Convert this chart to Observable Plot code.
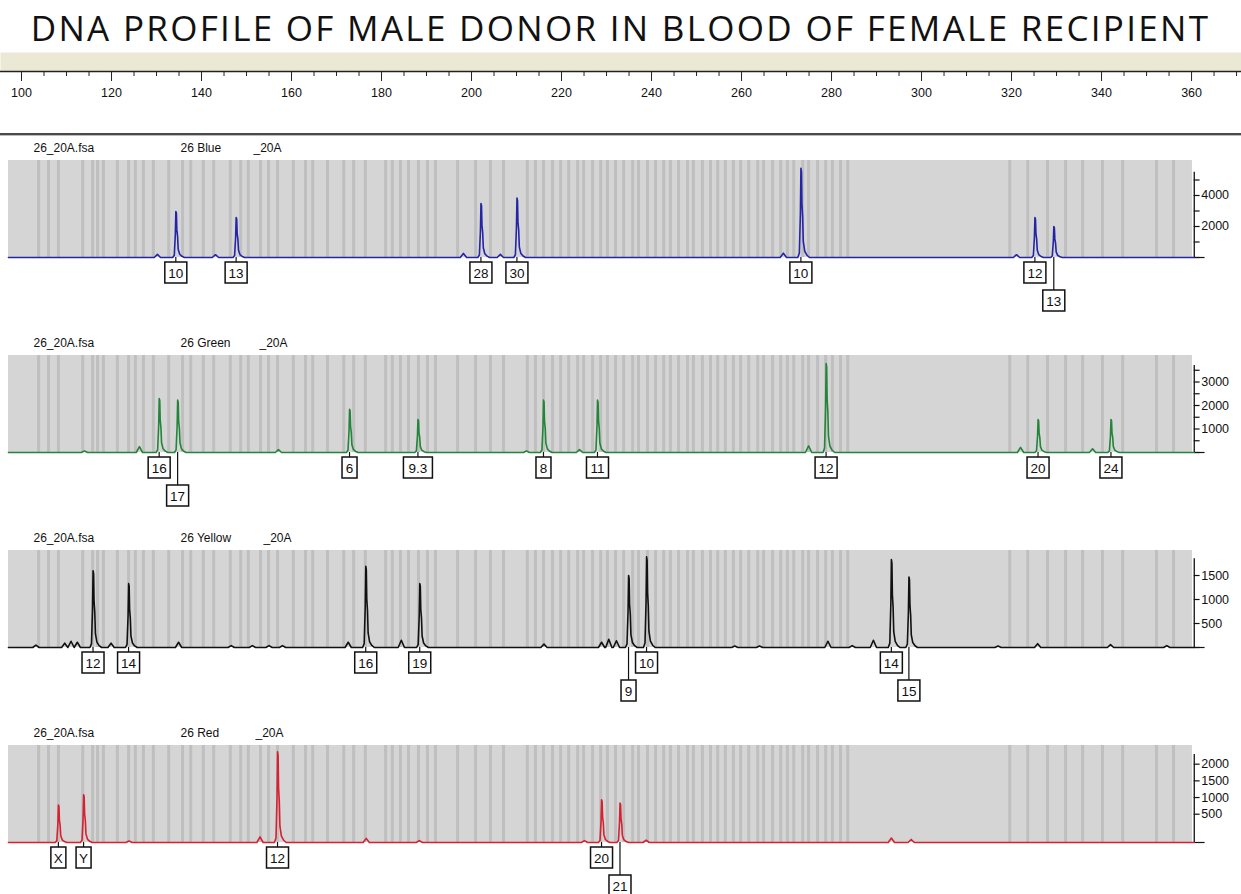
<!DOCTYPE html>
<html><head><meta charset="utf-8">
<script src="https://cdn.jsdelivr.net/npm/d3@7"></script>
<script src="https://cdn.jsdelivr.net/npm/@observablehq/plot@0.6"></script>
<style>
html,body{margin:0;padding:0;background:#fff;overflow:hidden;}
body{width:1241px;font-family:"Liberation Sans",Arial,sans-serif;}
#title{height:50px;text-align:center;font-family:"Open Sans",sans-serif;font-size:35px;line-height:56px;color:#111;letter-spacing:2.3px;white-space:nowrap;}
#sep{height:2px;background:#4a4a4a;border-bottom:1px solid #bbb;}
svg{display:block;}
</style></head><body>
<div id="title">DNA PROFILE OF MALE DONOR IN BLOOD OF FEMALE RECIPIENT</div>
<div id="axis"></div>
<div id="sep"></div>
<div id="panels"></div>
<script>
// ---------- data ----------
const sizeTickLabels = [100,120,140,160,180,200,220,240,260,280,300,320,340,360];
const sizeMinorTicks = [95,105,110,115,125,130,135,145,150,155,165,170,175,185,190,195,205,210,215,225,230,235,245,250,255,265,270,275,285,290,295,305,310,315,325,330,335,345,350,355,365,370];
const analysisRange = [97.1, 360.2];
const binCenters = [103.8,106.0,108.2,113.6,115.8,116.9,118.2,121.3,123.8,125.3,127.1,129.3,132.7,135.8,137.6,140.4,142.7,146.4,148.7,150.4,153.1,154.9,156.9,160.4,163.1,164.7,168.0,171.6,173.8,176.4,180.9,182.4,184.2,186.0,188.2,190.2,192.0,196.9,200.9,204.2,207.1,212.4,214.2,216.0,218.0,219.8,221.6,223.6,224.9,226.9,228.7,230.2,232.0,233.8,235.8,237.1,239.1,240.9,242.7,244.2,246.0,248.0,249.3,251.3,253.1,254.7,256.4,258.2,259.8,261.6,263.6,264.9,266.9,268.7,270.2,271.6,273.6,274.9,276.9,278.7,280.2,282.0,283.6,319.6,323.6,328.0,332.0,335.8,340.2,344.7,352.2,356.0];

const sampleFile = "26_20A.fsa";
const sampleName = "_20A";
const dyeNames = ["26 Blue","26 Green","26 Yellow","26 Red"];

const blueAlleles = ["10","13","28","30","10","12","13"];
const bluePos     = [134.4,147.8,202.2,210.2,273.3,325.3,329.5];
const blueHeight  = [2970,2580,3480,3830,5750,2580,2000];
const blueMinorPos    = [130.2,143.1,198.2,206.4,269.3,321.1];
const blueMinorHeight = [200,180,260,200,280,180];
const blueBaseline = 0;
const blueTicks = [0,1000,2000,3000,4000,5000];
const blueTickLabels = [2000,4000];

const greenAlleles = ["16","17","6","9.3","8","11","12","20","24"];
const greenPos     = [130.7,134.8,173.0,188.2,216.1,228.1,278.9,326.0,342.2];
const greenHeight  = [2300,2230,1840,1400,2230,2230,3790,1400,1400];
const greenMinorPos    = [114.0,126.2,157.1,212.2,224.0,274.9,322.0,338.0];
const greenMinorHeight = [60,250,120,60,120,280,220,160];
const greenBaseline = 0;
const greenTicks = [0,500,1000,1500,2000,2500,3000,3500];
const greenTickLabels = [1000,2000,3000];

const yellowAlleles = ["12","14","16","19","9","10","14","15"];
const yellowPos     = [116.0,123.9,176.6,188.6,235.0,239.0,293.4,297.3];
const yellowHeight  = [1600,1330,1690,1330,1500,1890,1830,1470];
const yellowMinorPos    = [103.2,109.6,111.0,112.4,119.9,134.9,146.6,151.3,155.0,158.0,172.6,184.4,216.1,228.9,230.5,232.2,258.5,264.0,279.2,284.6,289.3,317.0,325.8,342.0,354.5];
const yellowMinorHeight = [50,90,130,110,90,110,40,40,40,40,110,150,70,110,170,140,30,30,130,40,150,30,80,60,40];
const yellowBaseline = 0;
const yellowTicks = [0,500,1000,1500];
const yellowTickLabels = [500,1000,1500];

const redAlleles = ["X","Y","12","20","21"];
const redPos     = [108.3,113.9,157.0,229.0,233.1];
const redHeight  = [773,1085,2370,934,833];
const redMinorPos    = [123.9,153.0,176.6,188.4,225.1,238.8,293.3,297.7];
const redMinorHeight = [-303,-181,-224,-292,-292,-281,-215,-257];
const redBaseline = -348;
const redTicks = [500,1000,1500,2000];
const redTickLabels = [500,1000,1500,2000];

// ---------- layout / style ----------
const W = 1241;
const xDomain = [95.33, 371.1];
const axisPos = 360.6;
const panels = [
  {dye: dyeNames[0], color:"#2424a6", base:blueBaseline, top:6258, axisTop:5500, ticks:blueTicks, labels:blueTickLabels, alleles:blueAlleles, pos:bluePos, h:blueHeight, mPos:blueMinorPos, mH:blueMinorHeight, suffixX:253, height:195},
  {dye: dyeNames[1], color:"#23853a", base:greenBaseline, top:4128, axisTop:3700, ticks:greenTicks, labels:greenTickLabels, alleles:greenAlleles, pos:greenPos, h:greenHeight, mPos:greenMinorPos, mH:greenMinorHeight, suffixX:259, height:195},
  {dye: dyeNames[2], color:"#111111", base:yellowBaseline, top:2021, axisTop:1850, ticks:yellowTicks, labels:yellowTickLabels, alleles:yellowAlleles, pos:yellowPos, h:yellowHeight, mPos:yellowMinorPos, mH:yellowMinorHeight, suffixX:263, height:195},
  {dye: dyeNames[3], color:"#d42230", base:redBaseline, top:2560, axisTop:2290, ticks:redTicks, labels:redTickLabels, alleles:redAlleles, pos:redPos, h:redHeight, mPos:redMinorPos, mH:redMinorHeight, suffixX:255, height:175}
];

const peakShape = [[-0.8,0],[-0.45,0.05],[-0.22,0.5],[-0.1,1],[0.02,0.96],[0.12,0.6],[0.28,0.46],[0.42,0.18],[0.75,0.07],[1.25,0.025],[1.8,0]];
const bumpShape = [[-0.7,0],[0,1],[0.7,0]];

function trace(p) {
  const b = p.base;
  const pts = [{x: analysisRange[0], y: b}];
  p.pos.forEach((v,i) => peakShape.forEach(([dx,f]) => pts.push({x: v+dx, y: b + (p.h[i]-b)*f})));
  p.mPos.forEach((v,i) => bumpShape.forEach(([dx,f]) => pts.push({x: v+dx, y: b + (p.mH[i]-b)*f})));
  pts.push({x: axisPos, y: b});
  return pts.sort((a,c) => a.x - c.x);
}

function alleleBoxes(p) {
  return (index, scales) => {
    const {x, y} = scales;
    const y0 = y(p.base);
    const items = p.alleles.map((t,i) => ({t, cx: x(p.pos[i]), h: p.h[i], w: t.length*7 + 8}));
    const placed = [];
    items.slice().sort((a,c) => c.h - a.h).forEach(it => {
      const ov = placed.some(q => Math.abs(q.cx - it.cx) < (q.w + it.w)/2 + 1);
      it.row = ov ? 2 : 1;
      if (!ov) placed.push(it);
    });
    const g = d3.create("svg:g");
    for (const it of items) {
      const top = y0 + (it.row === 1 ? 5 : 33);
      g.append("line").attr("x1", it.cx).attr("x2", it.cx).attr("y1", y0).attr("y2", top)
        .attr("stroke", "#111").attr("stroke-width", 1.2);
      g.append("rect").attr("x", it.cx - it.w/2).attr("y", top).attr("width", it.w).attr("height", 21)
        .attr("fill", "#fff").attr("stroke", "#111").attr("stroke-width", 1.5);
      g.append("text").attr("x", it.cx).attr("y", top + 15.5).attr("text-anchor", "middle")
        .attr("font-size", 13.5).attr("font-family", "Liberation Sans, Arial, sans-serif").attr("fill", "#111").text(it.t);
    }
    return g.node();
  };
}

// ---------- top size axis ----------
const axisChart = Plot.plot({
  width: W, height: 83,
  marginTop: 2, marginBottom: 62, marginLeft: 0, marginRight: 0,
  style: {fontFamily: "Liberation Sans, Arial, sans-serif", fontSize: "12.5px", color: "#111", background: "#fff"},
  x: {domain: xDomain},
  marks: [
    Plot.frame({fill: "#ebe8d6", stroke: null}),
    Plot.frame({anchor: "bottom", stroke: "#222", strokeWidth: 1.5}),
    Plot.axisX({anchor: "bottom", ticks: sizeMinorTicks, tickSize: 5, tickFormat: () => "", stroke: "#222"}),
    Plot.axisX({anchor: "bottom", ticks: sizeTickLabels, tickSize: 10, tickPadding: 7, tickFormat: d => String(d), stroke: "#222", fill: "#111"})
  ]
});
document.getElementById("axis").append(axisChart);

// ---------- dye panels ----------
for (const p of panels) {
  const chart = Plot.plot({
    width: W, height: p.height,
    marginTop: 24, marginBottom: p.height - 121, marginLeft: 0, marginRight: 0,
    style: {fontFamily: "Liberation Sans, Arial, sans-serif", fontSize: "12px", color: "#111", background: "#fff", overflow: "visible"},
    x: {domain: xDomain, axis: null},
    y: {domain: [p.base, p.top], axis: null},
    marks: [
      Plot.rect([analysisRange], {x1: d => d[0], x2: d => d[1], y1: p.base, y2: p.top, fill: "#d5d5d5"}),
      Plot.ruleX(binCenters, {x: d => d, y1: p.base, y2: p.top, stroke: "#bfbfbf", strokeWidth: 3}),
      Plot.text([sampleFile], {frameAnchor: "top-left", dx: 33, dy: -17, textAnchor: "start", fontSize: 12, fill: "#111"}),
      Plot.text([p.dye], {frameAnchor: "top-left", dx: 180, dy: -17, textAnchor: "start", fontSize: 12, fill: "#111"}),
      Plot.text([sampleName], {frameAnchor: "top-left", dx: p.suffixX, dy: -17, textAnchor: "start", fontSize: 12, fill: "#111"}),
      Plot.ruleX([axisPos], {y1: p.base, y2: p.axisTop, stroke: "#111", strokeWidth: 1.3}),
      Plot.ruleY([p.base], {y: d => d, x1: axisPos, x2: axisPos + 2.4, stroke: "#111", strokeWidth: 1.2}),
      Plot.ruleY(p.ticks, {y: d => d, x1: axisPos, x2: axisPos + 1.3, stroke: "#111", strokeWidth: 1.2}),
      Plot.text(p.labels, {x: axisPos, y: d => d, dx: 7, textAnchor: "start", fontSize: 12.5, fill: "#111", text: d => String(d)}),
      Plot.line(trace(p), {x: "x", y: "y", stroke: p.color, strokeWidth: 1.6, curve: "linear"}),
      alleleBoxes(p)
    ]
  });
  document.getElementById("panels").append(chart);
}
</script>
</body></html>
